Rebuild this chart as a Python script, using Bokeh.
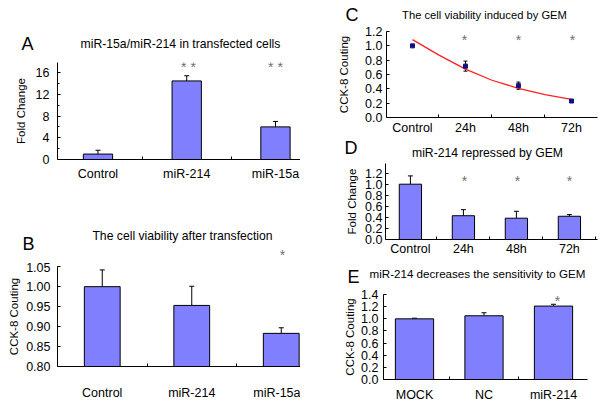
import numpy as np
from bokeh.plotting import figure
from bokeh.models import (Range1d, FixedTicker, NumeralTickFormatter, Label,
                          Whisker, TeeHead, ColumnDataSource)
from bokeh.layouts import row, column
from bokeh.embed import file_html
from bokeh.resources import INLINE

FONT = "Liberation Sans"
BAR = "#8080FF"
STAR = "#707070"

# ---------------- data ----------------
a_cats = ["Control", "miR-214", "miR-15a"]
a_vals = [1.0, 14.45, 6.0]
a_errs = [0.7, 0.95, 1.0]

b_cats = ["Control", "miR-214", "miR-15a"]
b_vals = [1.000, 0.953, 0.883]
b_errs = [0.042, 0.048, 0.014]

c_cats = ["Control", "24h", "48h", "72h"]
c_vals = [1.00, 0.717, 0.444, 0.23]
c_errs = [0.0, 0.07, 0.05, 0.01]
c_fit_pos = [0, 0.5, 1, 1.5, 2, 2.5, 3]
c_fit = [1.087, 0.87, 0.675, 0.52, 0.407, 0.32, 0.254]

d_cats = ["Control", "24h", "48h", "72h"]
d_vals = [1.0, 0.43, 0.385, 0.42]
d_errs = [0.15, 0.11, 0.125, 0.03]

e_cats = ["MOCK", "NC", "miR-214"]
e_vals = [1.0, 1.05, 1.21]
e_errs = [0.01, 0.05, 0.03]


def no_align(p):
    if "frame_align" in p.properties():
        p.frame_align = False


def header(ox, oy, w, h):
    # strip above a chart, whose data coordinates are page pixels
    p = figure(width=w, height=h, frame_width=w, frame_height=h,
               x_range=Range1d(ox, ox + w), y_range=Range1d(oy + h, oy),
               output_backend="svg", toolbar_location=None,
               x_axis_location=None, y_axis_location=None,
               min_border_left=0, min_border_right=0,
               min_border_top=0, min_border_bottom=0)
    p.outline_line_color = None
    p.xgrid.grid_line_color = None
    p.ygrid.grid_line_color = None
    no_align(p)

    def px(x, y):
        return x, y
    return p, px


def panel(ox, oy, w, h, L, R, T, B, xr, yr):
    p = figure(width=w, height=h, frame_width=R - L, frame_height=B - T,
               x_range=Range1d(*xr), y_range=Range1d(*yr),
               output_backend="svg", toolbar_location=None,
               min_border_left=L - ox, min_border_right=ox + w - R,
               min_border_top=T - oy, min_border_bottom=oy + h - B)
    p.outline_line_color = None
    p.xgrid.grid_line_color = None
    p.ygrid.grid_line_color = None
    no_align(p)

    def px(x, y):
        return (xr[0] + (x - L) / (R - L) * (xr[1] - xr[0]),
                yr[0] + (B - y) / (B - T) * (yr[1] - yr[0]))
    return p, px


def style(p, cats, yticks, yminor, yfmt, ylabel, xstand, ystand, ylstand):
    n = len(cats)
    xa = p.xaxis[0]
    xa.ticker = FixedTicker(ticks=list(range(n)), minor_ticks=[i + 0.5 for i in range(n)])
    xa.major_label_overrides = {i: c for i, c in enumerate(cats)}
    xa.major_tick_line_color = None
    xa.major_tick_in = 0
    xa.major_tick_out = 0
    xa.minor_tick_in = 3
    xa.minor_tick_out = 0
    xa.minor_tick_line_color = "black"
    xa.axis_line_color = "black"
    xa.major_label_text_font = FONT
    xa.major_label_text_font_size = "12.5px"
    xa.major_label_text_color = "black"
    xa.major_label_standoff = xstand

    ya = p.yaxis[0]
    ya.ticker = FixedTicker(ticks=yticks, minor_ticks=yminor)
    ya.formatter = NumeralTickFormatter(format=yfmt)
    ya.major_tick_in = 3
    ya.major_tick_out = 0
    ya.minor_tick_in = 2
    ya.minor_tick_out = 0
    ya.major_tick_line_color = "black"
    ya.minor_tick_line_color = "black" if yminor else None
    ya.axis_line_color = "black"
    ya.major_label_text_font = FONT
    ya.major_label_text_font_size = "12.5px"
    ya.major_label_text_color = "black"
    ya.major_label_standoff = ystand
    ya.axis_label = ylabel
    ya.axis_label_text_font = FONT
    ya.axis_label_text_font_size = "11.5px"
    ya.axis_label_text_font_style = "normal"
    ya.axis_label_text_color = "black"
    ya.axis_label_standoff = ylstand


def bars(p, vals, errs, width):
    xs = list(range(len(vals)))
    up = [v + e for v, e in zip(vals, errs)]
    src = ColumnDataSource(dict(x=xs, top=vals, lo=vals, up=up))
    w = Whisker(source=src, base="x", upper="up", lower="lo",
                line_color="black", line_width=1,
                upper_head=TeeHead(size=5, line_color="black", line_width=1),
                lower_head=None)
    p.add_layout(w)
    p.vbar(x="x", top="top", bottom=0, width=width, source=src,
           fill_color=BAR, line_color="black", line_width=1)


def text(p, px, x, y, t, size, align="center", color="black"):
    # y is the visual centre of the text line (page px)
    dx, dy = px(x, y)
    p.add_layout(Label(x=dx, y=dy, text=t, text_font=FONT, text_font_size=size,
                       text_align=align, text_baseline="alphabetic", text_color=color))


LETTER = "18px"
SSZ = "14px"

# ---------------- panel A ----------------
ha, hca = header(0, 0, 300, 56)
text(ha, hca, 21, 43.5, "A", LETTER, "left")
text(ha, hca, 180, 43, "miR-15a/miR-214 in transfected cells", "12.2px")

pa, ca = panel(0, 56, 300, 134, 57, 300, 62, 159,
               (-0.456, -0.456 + 243 / 88.75), (0, 97 / 5.4375))
style(pa, a_cats, [0, 4, 8, 12, 16], [2, 6, 10, 14], "0", "Fold Change", 7, 8, 6)
bars(pa, a_vals, a_errs, 0.33)
text(pa, ca, 188, 66, "* *", SSZ, color=STAR)
text(pa, ca, 275, 66, "* *", SSZ, color=STAR)

# ---------------- panel B ----------------
hb, hcb = header(0, 190, 300, 72)
text(hb, hcb, 22, 243, "B", LETTER, "left")
text(hb, hcb, 182, 235, "The cell viability after transfection", "12.2px")
text(hb, hcb, 282, 254, "*", SSZ, color=STAR)

pb, cb = panel(0, 262, 300, 147, 57, 300, 266, 366,
               (-0.5, -0.5 + 243 / 89.5), (0.80, 1.0505))
style(pb, b_cats, [0.80, 0.85, 0.90, 0.95, 1.00, 1.05], [], "0.00",
      "CCK-8 Couting", 19, 7, 3)
bars(pb, b_vals, b_errs, 0.40)

# ---------------- panel C ----------------
hc, hcc = header(300, 0, 300, 25)
text(hc, hcc, 345, 14, "C", LETTER, "left")
text(hc, hcc, 484, 14, "The cell viability induced by GEM", "11.2px")

pc, cc = panel(300, 25, 300, 112, 386, 597, 31, 117,
               (-0.49, -0.49 + 211 / 53), (0, 1.2005))
style(pc, c_cats, [0, 0.2, 0.4, 0.6, 0.8, 1.0, 1.2], [], "0.0",
      "CCK-8 Couting", 3, 4, 12)
xs_c = list(range(len(c_vals)))
src_c = ColumnDataSource(dict(x=xs_c, y=c_vals,
                              lo=[v - e for v, e in zip(c_vals, c_errs)],
                              up=[v + e for v, e in zip(c_vals, c_errs)]))
pc.add_layout(Whisker(source=src_c, base="x", upper="up", lower="lo",
                      line_color="black", line_width=1,
                      upper_head=TeeHead(size=4, line_color="black"),
                      lower_head=TeeHead(size=4, line_color="black")))
pc.line(c_fit_pos, c_fit, line_color="#FF2020", line_width=1.3)
pc.scatter("x", "y", source=src_c, marker="square", size=4,
           fill_color="#101080", line_color="#101080")
for sx in (464, 518, 572):
    text(pc, cc, sx, 39.5, "*", SSZ, color=STAR)

# ---------------- panel D ----------------
hd, hcd = header(300, 137, 300, 24)
text(hd, hcd, 344, 147.5, "D", LETTER, "left")
text(hd, hcd, 487, 152, "miR-214 repressed by GEM", "12.2px")

pd_, cd = panel(300, 161, 300, 104, 385, 597, 163, 239,
                (-0.47, -0.47 + 212 / 53), (0, 76 / 55.3))
style(pd_, d_cats, [0, 0.2, 0.4, 0.6, 0.8, 1.0, 1.2], [], "0.0",
      "Fold Change", 2, 3, 4)
bars(pd_, d_vals, d_errs, 0.42)
for sx in (464, 517, 569):
    text(pd_, cd, sx, 180, "*", SSZ, color=STAR)

# ---------------- panel E ----------------
he, hce = header(300, 265, 300, 22)
text(he, hce, 347, 276, "E", LETTER, "left")
text(he, hce, 477, 273, "miR-214 decreases the sensitivity to GEM", "11.6px")

pe, ce = panel(300, 287, 300, 122, 383, 587, 294, 379,
               (-0.446, -0.446 + 204 / 69.5), (0, 1.401))
style(pe, e_cats, [0, 0.2, 0.4, 0.6, 0.8, 1.0, 1.2, 1.4], [], "0.0",
      "CCK-8 Couting", 8, 5, 2)
bars(pe, e_vals, e_errs, 0.55)
text(pe, ce, 557, 300, "*", SSZ, color=STAR)

layout = row(column(ha, pa, hb, pb), column(hc, pc, hd, pd_, he, pe))
open("out.html", "w").write(file_html(layout, INLINE))
